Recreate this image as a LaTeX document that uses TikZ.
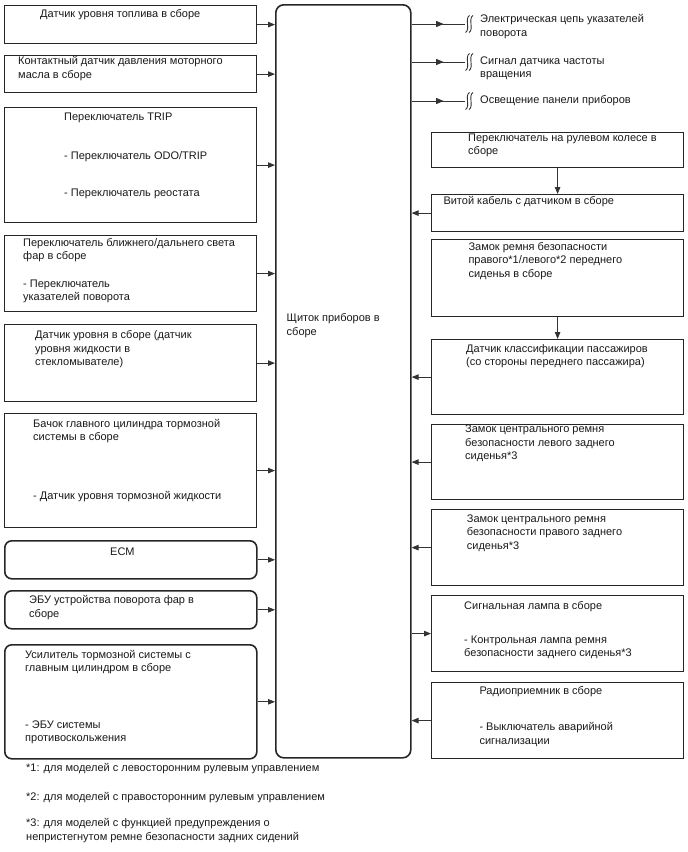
\documentclass[tikz,border=0pt]{standalone}
\usepackage{fontspec}
\setmainfont{Liberation Sans}
\usetikzlibrary{arrows.meta, decorations.markings}

\tikzset{
  box/.style={draw=black!85, line width=1.2pt, minimum width=252pt,
    anchor=north west, inner sep=0pt},
  rbox/.style={box, rounded corners=7pt, line width=1.6pt},
  % text is placed at the baseline of its first line
  txt/.style={anchor=north west, yshift=9.38pt, inner sep=0pt, align=left,
    text=black!90, font=\fontsize{11}{13.4}\selectfont,
    execute at begin node=\strut},
  conn/.style={draw=black!80, line width=0.9pt,
    -{Triangle[length=7pt, width=5.5pt]}},
  midarrow/.style={draw=black!80, line width=0.9pt, postaction={decorate},
    decoration={markings, mark=at position 0.6 with
      {\arrow{Triangle[length=7.5pt, width=6pt]}}}},
  brk/.pic={
    \foreach \dx in {2.5,6}
      \draw[black!80, line width=0.9pt]
        (\dx+2,-8.5) .. controls (\dx-3,-6) and (\dx+3,6) .. (\dx-2,8.5);
  }
}

\begin{document}
\begin{tikzpicture}[x=1pt, y=-1pt]
\useasboundingbox (0,0) rectangle (688,852);

% instrument panel
\node[rbox, minimum width=135pt, minimum height=753pt, rounded corners=8pt] (panel) at (275,4) {};
\node[txt] (panelTx) at (286.5,323) {Щиток приборов в\\сборе};

% inputs, left side
\node[box, minimum height=38pt] (fuel) at (4,5) {};
\node[txt] (fuelTx) at (40,17.3) {Датчик уровня топлива в сборе};

\node[box, minimum height=37pt] (oilp) at (4,55) {};
\node[txt] (oilpTx) at (18,65.7) {Контактный датчик давления моторного\\масла в сборе};

\node[box, minimum height=115pt] (trip) at (4,107) {};
\node[txt] (tripTx) at (64,120.7) {Переключатель TRIP};
\node[txt] (tripOdo) at (64,159.3) {- Переключатель ODO/TRIP};
\node[txt] (tripRheo) at (64,196.7) {- Переключатель реостата};

\node[box, minimum height=76pt] (beam) at (4,235) {};
\node[txt] (beamTx) at (23,247.3) {Переключатель ближнего/дальнего света\\фар в сборе};
\node[txt] (beamTurn) at (23,289) {- Переключатель\\указателей поворота};

\node[box, minimum height=77pt] (washer) at (4,324) {};
\node[txt] (washerTx) at (35,340) {Датчик уровня в сборе (датчик\\уровня жидкости в\\стекломывателе)};

\node[box, minimum height=114pt] (brake) at (4,413) {};
\node[txt] (brakeTx) at (33,428.3) {Бачок главного цилиндра тормозной\\системы в сборе};
\node[txt] (brakeLvl) at (33,499.3) {- Датчик уровня тормозной жидкости};

\node[rbox, minimum height=38pt] (ecm) at (4,540) {};
\node[txt] (ecmTx) at (110,555) {ECM};

\node[rbox, minimum height=38pt] (swivel) at (4,590) {};
\node[txt] (swivelTx) at (29,605) {ЭБУ устройства поворота фар в\\сборе};

\node[rbox, minimum height=114pt] (booster) at (4,644) {};
\node[txt] (boosterTx) at (25,659.3) {Усилитель тормозной системы с\\главным цилиндром в сборе};
\node[txt] (boosterSkid) at (25,730) {- ЭБУ системы\\противоскольжения};

\foreach \n in {fuel, oilp, trip, beam, washer, brake, ecm, swivel, booster}
  \draw[conn] (\n.east) -- (\n.east -| panel.west);

% outputs, right side
\coordinate (turnOut) at (465,24);
\coordinate (speedOut) at (465,62);
\coordinate (lightOut) at (465,101);
\foreach \n in {turnOut, speedOut, lightOut} {
  \draw[midarrow] (\n -| panel.east) -- (\n);
  \pic at (\n) {brk};
}
\node[txt] (turnTx) at (480,24) {Электрическая цепь указателей\\поворота};
\node[txt] (speedTx) at (480,66) {Сигнал датчика частоты\\вращения};
\node[txt] (lightTx) at (480,103) {Освещение панели приборов};

\node[box, minimum height=35.5pt] (steer) at (431,131.5) {};
\node[txt] (steerTx) at (468,142.7) {Переключатель на рулевом колесе в\\сборе};

\node[box, minimum height=37pt] (spiral) at (431,194) {};
\node[txt] (spiralTx) at (443.3,204) {Витой кабель с датчиком в сборе};

\node[box, minimum height=77pt] (buckleF) at (431,239) {};
\node[txt] (buckleFTx) at (468.3,251.7) {Замок ремня безопасности\\правого*1/левого*2 переднего\\сиденья в сборе};

\node[box, minimum height=75pt] (occupant) at (431,339) {};
\node[txt] (occupantTx) at (466,353.3) {Датчик классификации пассажиров\\(со стороны переднего пассажира)};

\node[box, minimum height=75pt] (buckleL) at (431,424) {};
\node[txt] (buckleLTx) at (465,434.3) {Замок центрального ремня\\безопасности левого заднего\\сиденья*3};

\node[box, minimum height=76pt] (buckleR) at (431,509) {};
\node[txt] (buckleRTx) at (466.7,524) {Замок центрального ремня\\безопасности правого заднего\\сиденья*3};

\node[box, minimum height=76pt] (lamp) at (431,595) {};
\node[txt] (lampTx) at (464,609.3) {Сигнальная лампа в сборе};
\node[txt] (lampBelt) at (464,645) {- Контрольная лампа ремня\\безопасности заднего сиденья*3};

\node[box, minimum height=76pt] (radio) at (431,682) {};
\node[txt] (radioTx) at (479.3,694) {Радиоприемник в сборе};
\node[txt] (radioHaz) at (479.3,731.7) {- Выключатель аварийной\\сигнализации};

\draw[conn] (steer.south) -- (spiral.north);
\draw[conn] (buckleF.south) -- (occupant.north);
\foreach \n in {spiral, occupant, buckleL, buckleR, radio}
  \draw[conn] (\n.west) -- (\n.west -| panel.east);
\draw[conn] (lamp.west -| panel.east) -- (lamp.west);

% footnotes
\node[txt] (note1) at (26,771.5) {*1: для моделей с левосторонним рулевым управлением};
\node[txt] (note2) at (26,800) {*2: для моделей с правосторонним рулевым управлением};
\node[txt] (note3) at (26,827.7) {*3: для моделей с функцией предупреждения о\\непристегнутом ремне безопасности задних сидений};
\end{tikzpicture}
\end{document}
